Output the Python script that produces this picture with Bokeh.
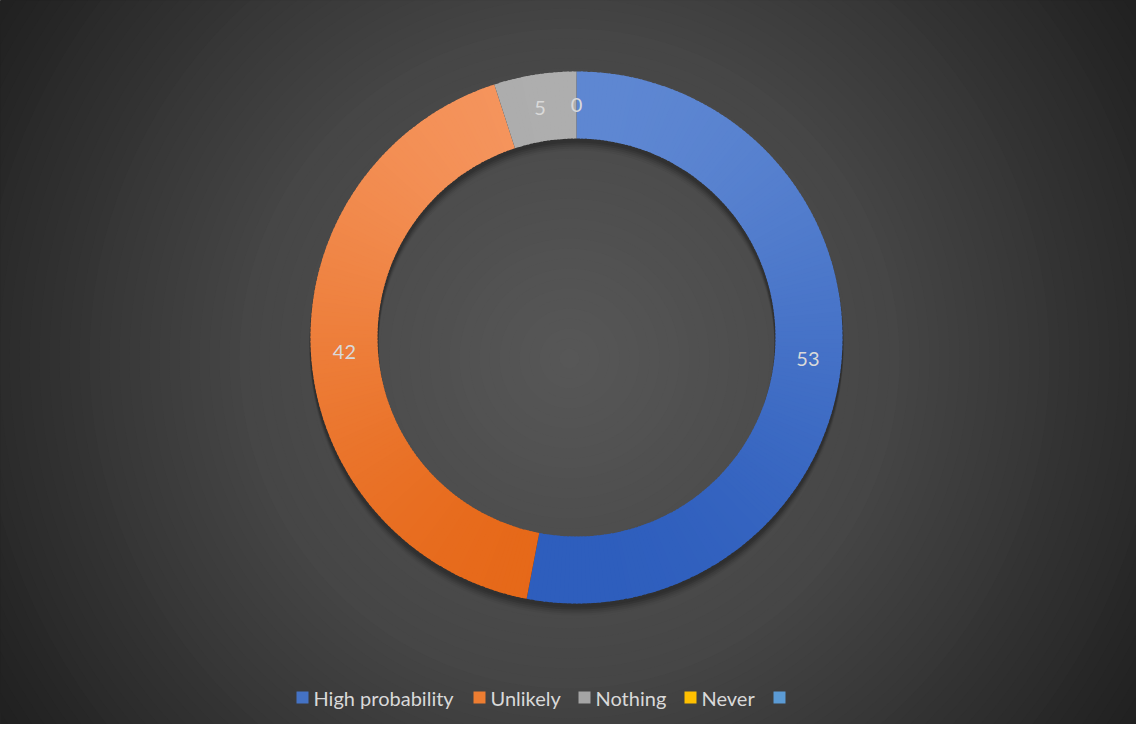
import math
from bokeh.plotting import figure
from bokeh.models import Range1d
from bokeh.core.properties import value
from bokeh.embed import file_html
from bokeh.resources import INLINE

# ---- data ----
categories = ["High probability", "Unlikely", "Nothing", "Never", ""]
values = [53, 42, 5, 0, 0]
label_values = ["53", "42", "5", "0"]
colors_top = ["#5E87D2", "#F5955E", "#AEAEAE", "#FFC000", "#5B9BD5"]
colors_bottom = ["#2E5EBD", "#E66818", "#7F7F7F", "#FFC000", "#5B9BD5"]
legend_colors = ["#4472C4", "#ED7D31", "#A5A5A5", "#FFC000", "#5B9BD5"]

W, H = 1136, 724
FONT = value("Lato")


def px(x):
    return x - 9


def py(y):
    return H - (y - 10)


def hex2rgb(h):
    h = h.lstrip("#")
    return tuple(int(h[i:i + 2], 16) for i in (0, 2, 4))


def mix(c1, c2, t):
    a, b = hex2rgb(c1), hex2rgb(c2)
    return "#%02x%02x%02x" % tuple(int(round(a[i] + (b[i] - a[i]) * t)) for i in range(3))


p = figure(width=W, height=H, output_backend="svg", toolbar_location=None,
           x_range=Range1d(0, W), y_range=Range1d(0, H), min_border=0,
           background_fill_color="#1e1e1e", border_fill_color="#1e1e1e")
p.axis.visible = False
p.grid.visible = False
p.outline_line_color = None

# ---- radial background ----
bcx, bcy = px(578), py(368)
stops = [(0, 88), (330, 70), (462, 56), (700, 30)]


def bg_level(r):
    for (r0, c0), (r1, c1) in zip(stops, stops[1:]):
        if r <= r1:
            return c0 + (c1 - c0) * (r - r0) / (r1 - r0)
    return stops[-1][1]


radii = list(range(720, 0, -10))
bg_cols = ["#%02x%02x%02x" % ((int(bg_level(r)),) * 3) for r in radii]
p.circle(x=[bcx] * len(radii), y=[bcy] * len(radii), radius=radii,
         fill_color=bg_cols, line_color=None)

# ---- donut geometry ----
cx, cy = px(585), py(347)
r_out, r_in = 266, 199

# shadow
for off, a in [(3, 0.10), (5, 0.10), (7, 0.08), (9, 0.06), (11, 0.04)]:
    p.annulus(x=cx, y=cy - off, inner_radius=r_in - 1, outer_radius=r_out + 1,
              fill_color="black", fill_alpha=a, line_color=None)

total = sum(values)
cum = 0.0
xs, ys, st, en, cols = [], [], [], [], []
mid_angles = []
for i, v in enumerate(values):
    a0 = math.pi / 2 - 2 * math.pi * cum / total
    a1 = math.pi / 2 - 2 * math.pi * (cum + v) / total
    mid_angles.append((a0 + a1) / 2)
    if v > 0:
        n = max(2, int(abs(a0 - a1) / math.radians(1.0)))
        for k in range(n):
            s = a0 + (a1 - a0) * k / n
            e = a0 + (a1 - a0) * (k + 1) / n
            m = (s + e) / 2
            t = (1 - math.sin(m)) / 2
            xs.append(cx)
            ys.append(cy)
            st.append(s)
            en.append(e - 0.006 if k < n - 1 else e)
            cols.append(mix(colors_top[i], colors_bottom[i], t))
    cum += v

p.annular_wedge(x=xs, y=ys, inner_radius=r_in, outer_radius=r_out,
                start_angle=st, end_angle=en, direction="clock",
                fill_color=cols, line_color=None)

# ---- data labels ----
r_lab = (r_in + r_out) / 2
lx = [cx + r_lab * math.cos(mid_angles[i]) for i in range(len(label_values))]
ly = [cy + r_lab * math.sin(mid_angles[i]) for i in range(len(label_values))]
p.text(x=lx, y=ly, text=label_values, text_align="center", text_baseline="middle",
       text_font=FONT, text_font_size="20px", text_color="#D9D9D9")

# ---- legend ----
sq_x = [311, 488, 593, 699, 788]
p.scatter(x=[px(v) for v in sq_x], y=[py(707)] * 5, marker="square", size=12,
          fill_color=legend_colors, line_color=None)
p.text(x=[px(v + 11) for v in sq_x], y=[py(707)] * 5, text=categories,
       text_align="left", text_baseline="middle", text_font=FONT,
       text_font_size="20px", text_color="#D9D9D9")

open("out.html", "w").write(file_html(p, INLINE))
